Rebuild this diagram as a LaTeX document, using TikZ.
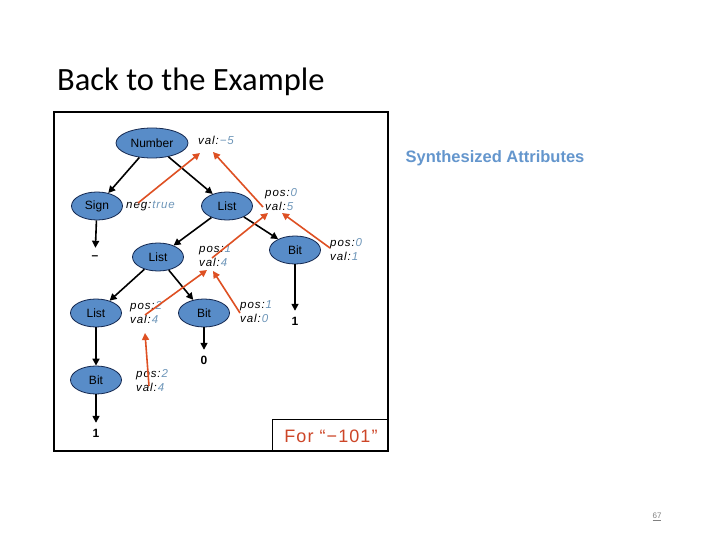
\documentclass[tikz,border=0pt]{standalone}
\usepackage{fontspec}
\setmainfont{Liberation Sans}
\setsansfont{Liberation Sans}
\newfontfamily\titlefont{Carlito}
\usetikzlibrary{shapes.geometric,arrows.meta}
\definecolor{nodeblue}{RGB}{88,140,200}
\definecolor{nodeedge}{RGB}{20,40,80}
\definecolor{valc}{RGB}{110,150,185}
\definecolor{redarrow}{RGB}{222,80,35}
\definecolor{synth}{RGB}{100,150,205}
\definecolor{forc}{RGB}{205,70,40}
\newcommand{\attr}[2]{\textit{#1:}\textcolor{valc}{\textit{#2}}}
\begin{document}
\begin{tikzpicture}[x=1pt,y=-1pt,
  tnode/.style={ellipse, draw=nodeedge, line width=0.8pt, fill=nodeblue, minimum width=51, minimum height=28, inner sep=0pt, font=\fontsize{12}{12}\selectfont},
  lab/.style={anchor=west, inner sep=0pt, align=left, font=\fontsize{11.5}{14}\selectfont\addfontfeature{LetterSpace=8}},
  leaf/.style={inner sep=0pt, minimum height=20, font=\bfseries\fontsize{12}{12}\selectfont},
  tedge/.style={line width=1.6pt, -{Triangle[length=7pt,width=7pt]}},
  redge/.style={line width=1.6pt, draw=redarrow, -{Triangle[length=7pt,width=7pt]}}]
\useasboundingbox (0,0) rectangle (720,540);
\fill[white] (0,0) rectangle (720,540);
% title
\node[anchor=base west, inner sep=0pt, font=\titlefont\fontsize{32.5}{32.5}\selectfont] (title) at (57,91) {Back to the Example};
% frame
\draw[line width=1.3pt] (54,112) rectangle (388,451);
\draw[line width=1pt] (272,419) -- (272,451);
\draw[line width=1pt] (272,419) -- (388,419);
\node[text=forc, font=\fontsize{18}{18}\selectfont\addfontfeature{LetterSpace=6}] (for) at (331,436) {For “−101”};
\node[text=synth, font=\bfseries\fontsize{16.5}{16.5}\selectfont] (synth) at (495,158) {Synthesized Attributes};
% tree nodes
\node[tnode, minimum width=72, minimum height=30] (number) at (152,143) {Number};
\node[tnode] (sign) at (97,206) {Sign};
\node[tnode] (list1) at (227,206) {List};
\node[tnode] (list2) at (158,257) {List};
\node[tnode] (bit1) at (295,250) {Bit};
\node[tnode] (list3) at (96,313) {List};
\node[tnode] (bit2) at (204,313) {Bit};
\node[tnode] (bit3) at (96,380) {Bit};
% leaves
\node[leaf] (minus) at (95,258) {–};
\node[leaf] (one1) at (295,321) {1};
\node[leaf] (zero) at (204,360) {0};
\node[leaf] (one2) at (96,433) {1};
% attribute labels
\node[lab] (valn) at (198,140) {\attr{val}{−5}};
\node[lab] (neg) at (126,206) {\attr{neg}{true}};
\node[lab] (a1) at (265,199.5) {\attr{pos}{0}\\\attr{val}{5}};
\node[lab] (a2) at (199,256) {\attr{pos}{1}\\\attr{val}{4}};
\node[lab] (a3) at (330,250) {\attr{pos}{0}\\\attr{val}{1}};
\node[lab] (a4) at (130,312.5) {\attr{pos}{2}\\\attr{val}{4}};
\node[lab] (a5) at (240,312) {\attr{pos}{1}\\\attr{val}{0}};
\node[lab] (a6) at (136,380.5) {\attr{pos}{2}\\\attr{val}{4}};
% tree edges
\draw[tedge] (number) -- (sign);
\draw[tedge] (number) -- (list1);
\draw[tedge] (list1) -- (list2);
\draw[tedge] (list1) -- (bit1);
\draw[tedge] (list2) -- (list3);
\draw[tedge] (list2) -- (bit2);
\draw[tedge] (sign) -- (minus);
\draw[tedge] (bit1) -- (one1);
\draw[tedge] (bit2) -- (zero);
\draw[tedge] (list3) -- (bit3);
\draw[tedge] (bit3) -- (one2);
% red arrow coordinates
\coordinate (r1s) at (138,203);
\coordinate (r1e) at (200,153);
\coordinate (r2s) at (263,207);
\coordinate (r2e) at (213,152);
\coordinate (r3s) at (212,258);
\coordinate (r3e) at (268,213);
\coordinate (r4s) at (330,248);
\coordinate (r4e) at (282,213);
\coordinate (r5s) at (145,315);
\coordinate (r5e) at (207,270);
\coordinate (r6s) at (240,313);
\coordinate (r6e) at (213,271);
\coordinate (r7s) at (149,386);
\coordinate (r7e) at (145,333);
\draw[redge] (r1s) -- (r1e);
\draw[redge] (r2s) -- (r2e);
\draw[redge] (r3s) -- (r3e);
\draw[redge] (r4s) -- (r4e);
\draw[redge] (r5s) -- (r5e);
\draw[redge] (r6s) -- (r6e);
\draw[redge] (r7s) -- (r7e);
% page number
\node[text=gray, font=\fontsize{8}{8}\selectfont] (pg) at (657,517) {\underline{67}};
\end{tikzpicture}
\end{document}
